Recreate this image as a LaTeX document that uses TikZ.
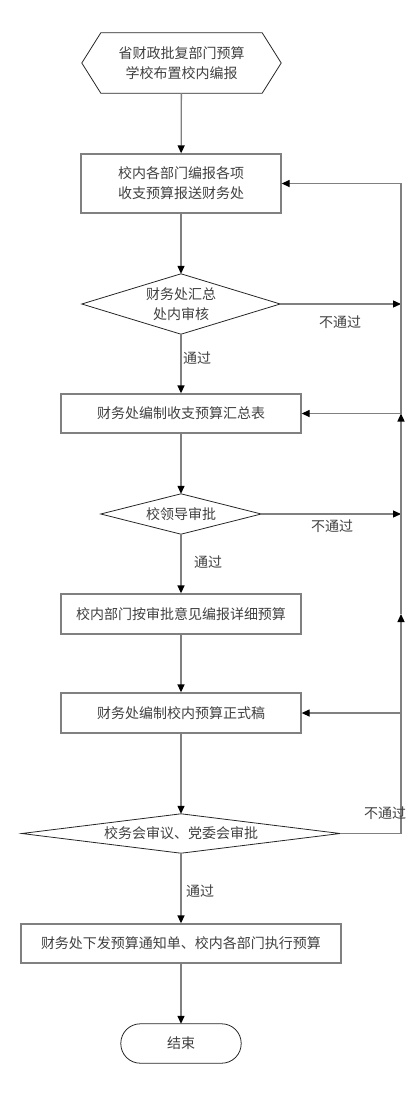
\documentclass[tikz,border=0pt]{standalone}
\usepackage{fontspec}
\newfontfamily\cjk{Noto Sans CJK SC}
\usetikzlibrary{arrows.meta}
\begin{document}
\begin{tikzpicture}[x=1pt,y=-1pt,
  txt/.style={font=\cjk\fontsize{14}{20}\selectfont, text=black!75, align=center},
  proc/.style={txt, draw=gray, line width=1.3pt, inner sep=0pt, minimum height=40pt},
  dec/.style={txt, inner sep=0pt},
  outl/.style={draw=black!85, line width=0.8pt},
  ln/.style={draw=gray, line width=1.3pt},
  arr/.style={ln, -{Triangle[length=8pt,width=7pt,color=black]}},
  lab/.style={txt, inner sep=0pt}]
\useasboundingbox (0,0) rectangle (416,1112);
\coordinate (rx) at (401,0);

% start hexagon
\node[dec, minimum width=199pt, minimum height=60pt] (s) at (181.5,63) {省财政批复部门预算\\学校布置校内编报};
\draw[outl] (s.west) -- ([xshift=19pt]s.north west) -- ([xshift=-19pt]s.north east) -- (s.east)
  -- ([xshift=-19pt]s.south east) -- ([xshift=19pt]s.south west) -- cycle;

\node[proc, minimum width=200pt, minimum height=59pt] (b1) at (181,183.5) {校内各部门编报各项\\收支预算报送财务处};

\node[dec, minimum width=198pt, minimum height=60pt] (d1) at (181,304) {财务处汇总\\处内审核};
\draw[outl] (d1.north) -- (d1.east) -- (d1.south) -- (d1.west) -- cycle;

\node[proc, minimum width=240pt, minimum height=39pt] (b2) at (181,413.5) {财务处编制收支预算汇总表};

\node[dec, minimum width=160pt, minimum height=40pt] (d2) at (181,514) {校领导审批};
\draw[outl] (d2.north) -- (d2.east) -- (d2.south) -- (d2.west) -- cycle;

\node[proc, minimum width=240pt] (b3) at (181,614) {校内部门按审批意见编报详细预算};

\node[proc, minimum width=240pt] (b4) at (181,713) {财务处编制校内预算正式稿};

\node[dec, minimum width=318pt, minimum height=39pt] (d3) at (181,833.5) {校务会审议、党委会审批};
\draw[outl] (d3.north) -- (d3.east) -- (d3.south) -- (d3.west) -- cycle;

\node[proc, minimum width=320pt, minimum height=39pt] (b5) at (181,943.5) {财务处下发预算通知单、校内各部门执行预算};

\node[txt, minimum width=120pt, minimum height=39pt, inner sep=0pt] (e) at (181,1043.5) {结束};
\draw[outl, rounded corners=19.5pt] (e.north west) rectangle (e.south east);

% main flow
\draw[arr] (s) -- (b1);
\draw[arr] (b1) -- (d1);
\draw[arr] (d1) -- (b2);
\draw[arr] (b2) -- (d2);
\draw[arr] (d2) -- (b3);
\draw[arr] (b3) -- (b4);
\draw[arr] (b4) -- (d3);
\draw[arr] (d3) -- (b5);
\draw[arr] (b5) -- (e);

% feedback
\draw[arr] (d1.east) -- (d1.east -| rx);
\draw[arr] (d2.east) -- (d2.east -| rx);
\draw[arr] (d3.east) -- (d3.east -| rx) -- (b4.east -| rx) -- (b4.east);
\draw[arr] (b4.east -| rx) -- (b3.east -| rx);
\draw[arr] (b3.east -| rx) -- (b2.east -| rx);
\draw[arr] (b2.east -| rx) -- (b2.east);
\draw[arr] (b2.east -| rx) -- (b1.east -| rx) -- (b1.east);

% labels
\node[lab] (l1) at (197,358) {通过};
\node[lab] (l2) at (340,322) {不通过};
\node[lab] (l3) at (208,562) {通过};
\node[lab] (l4) at (332,526) {不通过};
\node[lab] (l5) at (385,813) {不通过};
\node[lab] (l6) at (200,891) {通过};
\end{tikzpicture}
\end{document}
